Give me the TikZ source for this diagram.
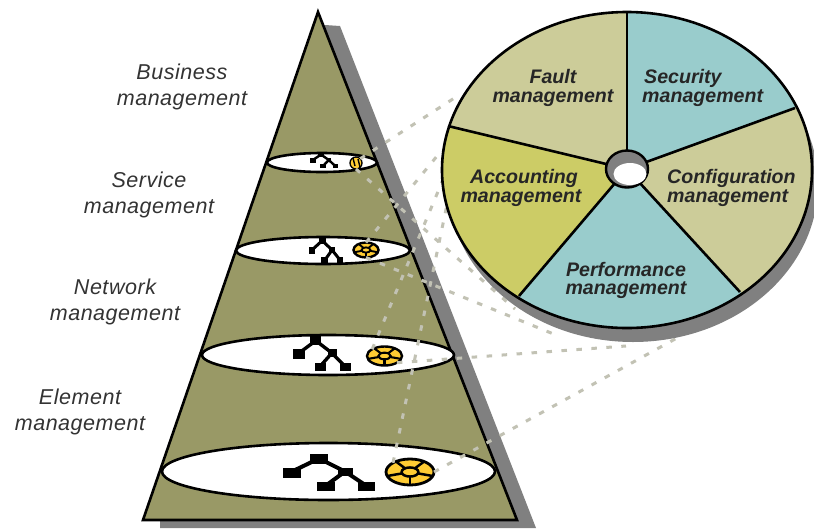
\documentclass[tikz,border=0pt]{standalone}
\usepackage{fontspec}
\setmainfont{Liberation Sans}
\usetikzlibrary{shapes.geometric}
\definecolor{olivep}{HTML}{999966}
\definecolor{shadowg}{HTML}{808080}
\definecolor{tanp}{HTML}{CCCC99}
\definecolor{tealp}{HTML}{99CCCC}
\definecolor{yelp}{HTML}{CCCC66}
\definecolor{gold}{HTML}{FFCC33}
\definecolor{dashc}{HTML}{C2C2B4}
\definecolor{lev}{HTML}{333333}
\tikzset{
  levelell/.style={ellipse,draw=black,fill=white,line width=2.6pt,inner sep=0pt,outer sep=0pt},
  minipie/.style={ellipse,draw=black,fill=gold,line width=2.4pt,inner sep=0pt,outer sep=0pt},
  levellabel/.style={align=center,text=lev,font=\fontsize{21.5}{26}\selectfont\itshape\addfontfeature{LetterSpace=2.5},inner sep=0pt},
  pielabel/.style={text=black!85,font=\fontsize{19.6}{18.5}\selectfont\bfseries\itshape,inner sep=0pt},
  link/.style={dashc,line width=3pt,dash pattern=on 5.5pt off 9.5pt},
  outline/.style={draw=black,line width=2.6pt}
}
\newcommand{\orgtree}[5]{% cx cy xscale yscale line
  \begin{scope}[shift={(#1,#2)},xscale=#3,yscale=#4]
    \draw[black,line width=#5] (-37,0) -- (-10,-13) -- (16,0) -- (-3,14);
    \draw[black,line width=#5] (16,0) -- (37,14);
    \fill[black] (-19,-18) rectangle (-1,-8);
    \fill[black] (-46,-4) rectangle (-28,6);
    \fill[black] (9,-4) rectangle (24,4);
    \fill[black] (-12,10) rectangle (6,19);
    \fill[black] (29,10) rectangle (46,19);
  \end{scope}}
\newcommand{\pielines}[5]{% cx cy rx ry lw
  \begin{scope}[shift={(#1,#2)},xscale=#3,yscale=#4]
    \foreach \a in {90,18,-54,-126,162}
      \draw[black,line width=#5] (\a:.35) -- (\a:1);
    \draw[black,line width=#5] (0,0) circle [radius=.35];
  \end{scope}}
\begin{document}
\begin{tikzpicture}[x=1pt,y=-1pt]
\useasboundingbox (0,0) rectangle (814,528);
\fill[white] (0,0) rectangle (814,528);
% pyramid
\fill[shadowg] (325,25) -- (340,26) -- (536,528) -- (160,528) -- (160,515) -- cycle;
\draw[outline,fill=olivep,line join=miter] (318,12) -- (517,520) -- (143,520) -- cycle;
% levels
\node[levelell,minimum width=110pt,minimum height=19pt] (e1) at (322,162.5) {};
\node[levelell,minimum width=174pt,minimum height=27pt] (e2) at (323,250.5) {};
\node[levelell,minimum width=252pt,minimum height=40pt] (e3) at (328,355) {};
\node[levelell,minimum width=333pt,minimum height=57pt] (e4) at (328.5,471.5) {};
% trees
\orgtree{324}{160}{.30}{.42}{2.4pt}
\orgtree{326}{250}{.38}{.72}{3pt}
\orgtree{322}{353}{.62}{.95}{3.4pt}
\orgtree{329}{471.5}{1}{1}{4pt}
% mini pies
\node[minipie,line width=1.3pt,minimum width=12pt,minimum height=12pt] (p1) at (356,163) {};
\node[minipie,minimum width=25pt,minimum height=15pt] (p2) at (366,250) {};
\node[minipie,minimum width=35pt,minimum height=19pt] (p3) at (384.5,356) {};
\node[minipie,line width=2.8pt,minimum width=48pt,minimum height=26pt] (p4) at (410,472) {};
\draw[black,line width=1.4pt] (353,158) -- (355,166) (358,159) -- (360,167);
\pielines{366}{250}{12.5}{7.5}{1.9pt}
\pielines{384.5}{356}{17.5}{9.5}{2.1pt}
\pielines{410}{472}{24}{13}{2.5pt}
% far ends on the big wheel
\coordinate (c1) at (456,97);
\coordinate (c2) at (442,150);
\coordinate (c3) at (447,170);
\coordinate (c4) at (449,195);
\coordinate (c5) at (515,309);
\coordinate (c6) at (556,335);
\coordinate (c7) at (626,346);
\coordinate (c8) at (695,328);
\draw[link] (p1.north east) -- (c1);
\draw[link] (p2.north) -- (c2);
\draw[link] (p3.north west) -- (c3);
\draw[link] (p4.north west) -- (c4);
\draw[link] (p1.south) -- (c5);
\draw[link] (p2.south) -- (c6);
\draw[link] (p3.south east) -- (c7);
\draw[link] (p4.east) -- (c8);
% wheel
\fill[shadowg] (633,184) ellipse [x radius=185,y radius=158];
\begin{scope}
  \clip (627,170) ellipse [x radius=185,y radius=158];
  \fill[tanp] (627,170) -- (350,102) -- (350,-10) -- (627,-10) -- cycle;
  \fill[tealp] (627,170) -- (627,-10) -- (900,-10) -- (900,69) -- cycle;
  \fill[tanp] (627,170) -- (900,69) -- (900,460) -- (896,460) -- cycle;
  \fill[tealp] (627,170) -- (896,460) -- (378,460) -- cycle;
  \fill[yelp] (627,170) -- (378,460) -- (350,460) -- (350,102) -- cycle;
\end{scope}
\node[ellipse,draw=black,line width=2.6pt,minimum width=370pt,minimum height=316pt,inner sep=0pt,outer sep=0pt] (wheel) at (627,170) {};
\coordinate (s1) at (627,12);
\coordinate (s2) at (795,108);
\coordinate (s3) at (740,292);
\coordinate (s4) at (519,296);
\coordinate (s5) at (448,126);
\node[ellipse,draw=black,fill=shadowg,line width=2.4pt,minimum width=42pt,minimum height=37pt,inner sep=0pt,outer sep=0pt] (hub) at (627,169) {};
\draw[outline] (s1) -- (hub);
\draw[outline] (s2) -- (hub);
\draw[outline] (s3) -- (hub);
\draw[outline] (s4) -- (hub);
\draw[outline] (s5) -- (hub);
\node[ellipse,fill=white,minimum width=33pt,minimum height=22pt,inner sep=0pt] (hole) at (630,174) {};
% level labels
\node[levellabel] (l1) at (182,86.5) {Business\\management};
\node[levellabel] (l2) at (149,195) {Service\\management};
\node[levellabel] (l3) at (115,301.5) {Network\\management};
\node[levellabel] (l4) at (80,411.5) {Element\\management};
% wheel labels
\node[pielabel,align=center] (f) at (553,88) {Fault\hspace{22pt}\\management};
\node[pielabel,align=left,anchor=west] (s) at (642,88) {\hspace{2pt}Security\\management};
\node[pielabel,align=center] (a) at (521,188) {\hspace{6pt}Accounting\\management};
\node[pielabel,align=left,anchor=west] (c) at (667,188) {Configuration\\management};
\node[pielabel,align=center] (p) at (626,280.5) {Performance\\management};
\end{tikzpicture}
\end{document}
